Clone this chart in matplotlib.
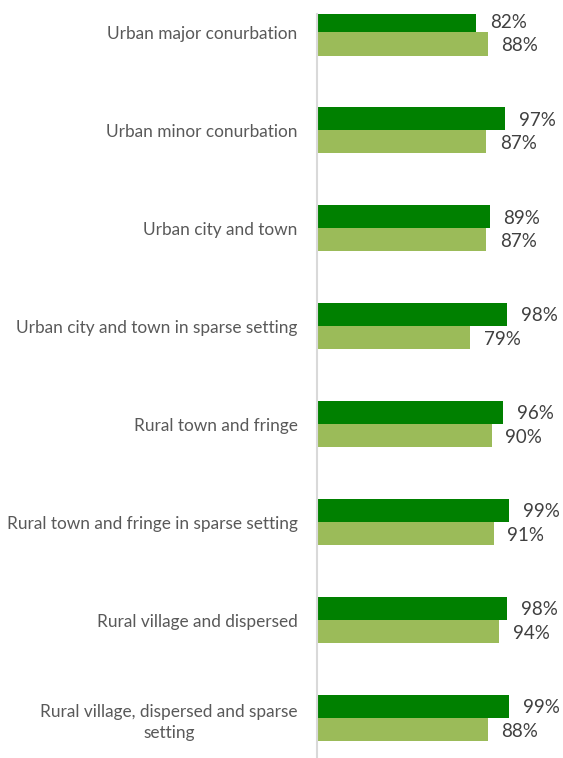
import matplotlib
matplotlib.use('Agg')
import matplotlib.pyplot as plt
import numpy as np

# Settlement types, top to bottom
categories = [
    'Urban major conurbation',
    'Urban minor conurbation',
    'Urban city and town',
    'Urban city and town in sparse setting',
    'Rural town and fringe',
    'Rural town and fringe in sparse setting',
    'Rural village and dispersed',
    'Rural village, dispersed and sparse\nsetting',
]
dark_values = [82, 97, 89, 98, 96, 99, 98, 99]
light_values = [88, 87, 87, 79, 90, 91, 94, 88]

dark_green = '#008000'
light_green = '#9BBB59'

plt.rcParams['font.family'] = ['Lato', 'DejaVu Sans']

fig = plt.figure(figsize=(5.63, 7.58), dpi=100)
ax = fig.add_axes([0.563, 0.0, 0.437, 1 - 14 / 758])

y = np.arange(len(categories))
h = 0.237
dark_bars = ax.barh(y - h / 2, dark_values, height=h, color=dark_green)
light_bars = ax.barh(y + h / 2, light_values, height=h, color=light_green)

for bars, vals in ((dark_bars, dark_values), (light_bars, light_values)):
    for b, v in zip(bars, vals):
        ax.annotate('%d%%' % v, (v, b.get_y() + b.get_height() / 2),
                    xytext=(10, -1), textcoords='offset points',
                    va='center', ha='left', fontsize=13.5, color='#404040',
                    annotation_clip=False)

ax.set_xlim(0, 246 / 1.94)
ax.set_ylim(7.408, -0.187)
ax.set_yticks(y)
ax.set_yticklabels(categories, fontsize=12.4, color='#595959',
                   multialignment='center', linespacing=1.45)
ax.tick_params(axis='y', length=0, pad=14)
ax.set_xticks([])
for s in ('top', 'right', 'bottom'):
    ax.spines[s].set_visible(False)
ax.spines['left'].set_color('#D9D9D9')
ax.spines['left'].set_linewidth(1.5)

fig.savefig('out.png', dpi=100)
